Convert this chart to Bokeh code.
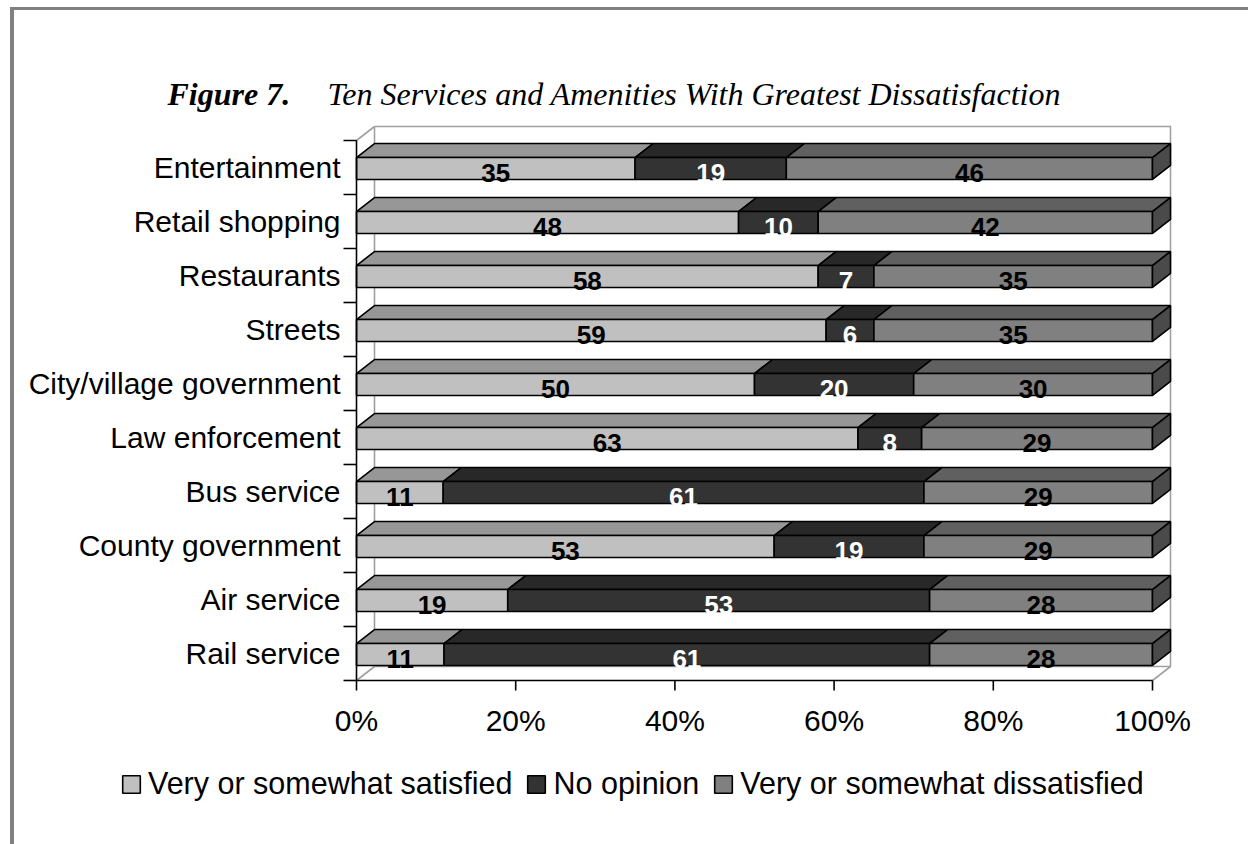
from bokeh.plotting import figure
from bokeh.models import Range1d, Legend, LegendItem, Label, ColumnDataSource
from bokeh.core.properties import value
from bokeh.embed import file_html
from bokeh.resources import INLINE

# ---------------- data ----------------
categories = ["Entertainment", "Retail shopping", "Restaurants", "Streets",
              "City/village government", "Law enforcement", "Bus service",
              "County government", "Air service", "Rail service"]
satisfied = [35, 48, 58, 59, 50, 63, 11, 53, 19, 11]
no_opinion = [19, 10, 7, 6, 20, 8, 61, 19, 53, 61]
dissatisfied = [46, 42, 35, 35, 30, 29, 29, 29, 28, 28]
series_names = ["Very or somewhat satisfied", "No opinion", "Very or somewhat dissatisfied"]
x_ticks = [0, 20, 40, 60, 80, 100]
x_tick_labels = ["0%", "20%", "40%", "60%", "80%", "100%"]
title_bold = "Figure 7."
title_rest = "Ten Services and Amenities With Greatest Dissatisfaction"

# ---------------- styles ----------------
front_colors = ["#C0C0C0", "#333333", "#808080"]
top_colors = ["#979797", "#282828", "#606060"]
side_color = "#4a4a4a"
label_colors = ["black", "white", "black"]
wall_color = "#a0a0a0"
SANS = "Liberation Sans"
SERIF = "Liberation Serif"

W, H = 1248, 844
AXIS_X = 356                        # pixel x of 0%
PX_PER_PCT = 7.96
PX_PER_ROW = 54.0
ROW0_Y = 167                        # pixel centre of first category
DX = 18 / PX_PER_PCT
DY = 14 / PX_PER_ROW
n = len(categories)
y_bottom = n - 0.5
y_top = -ROW0_Y / PX_PER_ROW
y_end = (H - ROW0_Y) / PX_PER_ROW
x_start = -AXIS_X / PX_PER_PCT
x_end = (W - AXIS_X) / PX_PER_PCT

p = figure(width=W, height=H,
           x_range=Range1d(x_start, x_end),
           y_range=Range1d(y_end, y_top),
           output_backend="svg", toolbar_location=None,
           min_border=0)
p.xgrid.visible = False
p.ygrid.visible = False
p.xaxis.visible = False
p.yaxis.visible = False
p.outline_line_color = None
p.background_fill_color = None
p.border_fill_color = None
p.styles = {"background": "linear-gradient(#808080,#808080) 10px 7px / 4px 100% no-repeat, "
                          "linear-gradient(#808080,#808080) 10px 7px / 100% 3px no-repeat, #ffffff"}

# ---------------- walls (3D frame) ----------------
wall_top = -0.5 - DY
wall_bot = y_bottom - DY
wx = [[DX, 100 + DX, 100 + DX, DX, DX],
      [0, DX], [0, DX], [100, 100 + DX]]
wy = [[wall_top, wall_top, wall_bot, wall_bot, wall_top],
      [-0.5, wall_top], [y_bottom, wall_bot], [y_bottom, wall_bot]]
p.multi_line(xs=wx, ys=wy, line_color=wall_color, line_width=1.6)

# ---------------- stacked 3D bars ----------------
series = [satisfied, no_opinion, dissatisfied]
totals = [sum(v) for v in zip(*series)]
lefts = []
rights = []
cum = [0.0] * n
for vals in series:
    l = list(cum)
    r = [c + v / t * 100 for c, v, t in zip(cum, vals, totals)]
    lefts.append(l)
    rights.append(r)
    cum = r

rows = list(range(n))
tops = [k - 0.185 for k in rows]
bots = [k + 0.222 for k in rows]

front_renderers = []
for j, vals in enumerate(series):
    l, r = lefts[j], rights[j]
    txs = [[a, b, b + DX, a + DX] for a, b in zip(l, r)]
    tys = [[t, t, t - DY, t - DY] for t in tops]
    p.patches(xs=txs, ys=tys, fill_color=top_colors[j], line_color="black", line_width=1.6)
    src = ColumnDataSource(dict(left=l, right=r, top=tops, bottom=bots))
    fr = p.quad(left="left", right="right", top="top", bottom="bottom", source=src,
                fill_color=front_colors[j], line_color="black", line_width=1.6)
    front_renderers.append(fr)

# right side face of the last segment
sxs = [[b, b + DX, b + DX, b] for b in rights[-1]]
sys_ = [[t, t - DY, bo - DY, bo] for t, bo in zip(tops, bots)]
p.patches(xs=sxs, ys=sys_, fill_color=side_color, line_color="black", line_width=1.6)

# value labels
for j, vals in enumerate(series):
    cx = [(a + b) / 2 for a, b in zip(lefts[j], rights[j])]
    cy = [k + 0.111 for k in rows]
    p.text(x=cx, y=cy, text=[str(v) for v in vals], text_align="center",
           text_baseline="middle", text_color=label_colors[j],
           text_font=value(SANS), text_font_style="bold", text_font_size="26px")

# ---------------- category axis (front plane) ----------------
tick_len_x = 13 / PX_PER_PCT
bounds_y = [k - 0.5 for k in range(n + 1)]
p.segment(x0=[0], y0=[-0.5], x1=[0], y1=[y_bottom], line_color="black", line_width=1.6)
p.segment(x0=[-tick_len_x] * len(bounds_y), y0=bounds_y, x1=[0] * len(bounds_y), y1=bounds_y,
          line_color="black", line_width=1.6)
p.text(x=[-16 / PX_PER_PCT] * n, y=rows, text=categories, text_align="right",
       text_baseline="middle", text_color="black",
       text_font=value(SANS), text_font_size="30px")

# ---------------- percent axis ----------------
tick_len_y = 10 / PX_PER_ROW
nt = len(x_ticks)
p.segment(x0=[0], y0=[y_bottom], x1=[100], y1=[y_bottom], line_color="black", line_width=1.6)
p.segment(x0=x_ticks, y0=[y_bottom] * nt, x1=x_ticks, y1=[y_bottom + tick_len_y] * nt,
          line_color="black", line_width=1.6)
p.text(x=x_ticks, y=[y_bottom + 40 / PX_PER_ROW] * nt, text=x_tick_labels,
       text_align="center", text_baseline="middle", text_color="black",
       text_font=value(SANS), text_font_size="30px")

# ---------------- title ----------------
title_y = -73.5 / PX_PER_ROW
p.add_layout(Label(x=-189 / PX_PER_PCT, y=title_y, text=title_bold, text_font=SERIF,
                   text_font_style="bold italic", text_font_size="32px",
                   text_baseline="alphabetic", text_color="black"))
p.add_layout(Label(x=-29 / PX_PER_PCT, y=title_y, text=title_rest, text_font=SERIF,
                   text_font_style="italic", text_font_size="32px",
                   text_baseline="alphabetic", text_color="black"))

# ---------------- legend ----------------
legend = Legend(items=[LegendItem(label=nm, renderers=[fr])
                       for nm, fr in zip(series_names, front_renderers)],
                orientation="horizontal", location=(120, 43),
                padding=0, margin=0, spacing=13, label_standoff=6,
                glyph_width=22, glyph_height=22,
                label_text_font=SANS, label_text_font_size="30.5px",
                label_text_color="black",
                border_line_color=None, background_fill_alpha=0)
p.add_layout(legend)

open("out.html", "w").write(file_html(p, INLINE))
